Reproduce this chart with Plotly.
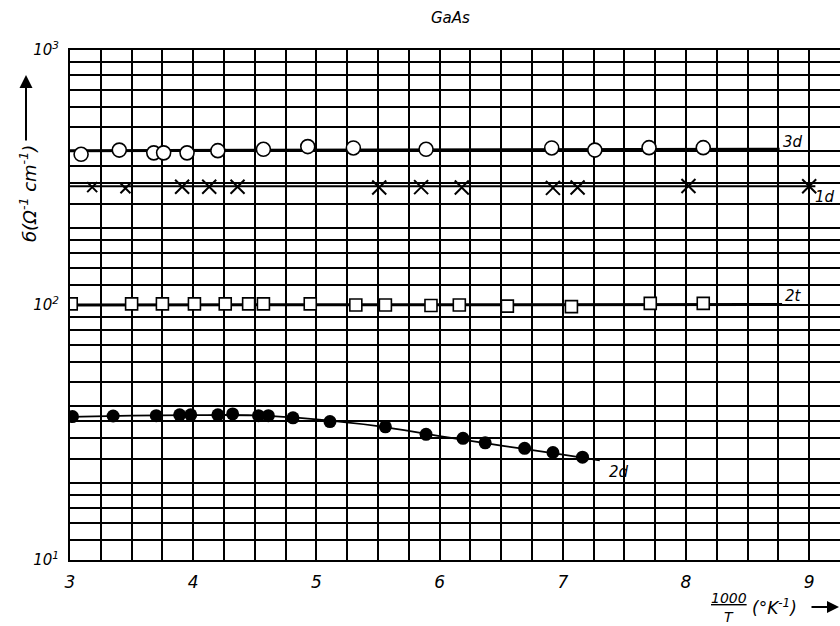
import plotly.graph_objects as go
import numpy as np

# ---- data ----
x3d = [3.09, 3.40, 3.68, 3.76, 3.95, 4.20, 4.57, 4.93, 5.30, 5.89, 6.91, 7.26, 7.70, 8.14]
y3d = [390, 405, 395, 395, 395, 403, 408, 418, 413, 408, 413, 405, 414, 414]

x1d = [3.18, 3.45, 3.91, 4.13, 4.36, 5.51, 5.85, 6.18, 6.92, 7.12, 8.02, 9.00]
y1d = [290, 287, 291, 291, 291, 289, 290, 289, 288, 289, 293, 292]

x2t = [3.01, 3.50, 3.75, 4.01, 4.26, 4.45, 4.57, 4.95, 5.32, 5.56, 5.93, 6.16, 6.55, 7.07, 7.71, 8.14]
y2t = [101, 101, 101, 101, 101, 101, 101, 101, 100, 100, 99.5, 100, 99, 98.5, 101.5, 101.5]

x2d = [3.02, 3.35, 3.70, 3.89, 3.98, 4.20, 4.32, 4.53, 4.61, 4.81, 5.11, 5.56, 5.89, 6.19, 6.37, 6.69, 6.92, 7.16]
y2d = [36.5, 36.7, 36.8, 37.1, 37.1, 37.1, 37.4, 36.8, 36.8, 36.1, 34.9, 33.3, 31.1, 30.0, 28.8, 27.4, 26.4, 25.3]

fit3d_x = [3.0, 8.76]
fit3d_y = [403, 408]
fit1d_x = [3.0, 9.05]
fit1d_y = [292, 292]
fit2t_x = [3.0, 8.78]
fit2t_y = [100, 100.5]
fit2d_x = [3.0, 3.5, 4.0, 4.5, 5.0, 5.5, 6.0, 6.5, 7.0, 7.3]
fit2d_y = [36.4, 36.8, 37.0, 36.9, 35.6, 33.5, 30.6, 28.1, 25.9, 24.6]

labels = ["3d", "1d", "2t", "2d"]
label_x = [8.77, 9.03, 8.79, 7.36]
label_y = [437, 266, 108, 22.2]

x_ticks = [3, 4, 5, 6, 7, 8, 9]
y_decades = [10, 100, 1000]
y_decade_text = ["10<sup>1</sup>", "10<sup>2</sup>", "10<sup>3</sup>"]
grid_mantissa = [1, 1.2, 1.4, 1.6, 1.8, 2, 2.5, 3, 3.5, 4, 5, 6, 7, 8, 9]

# ---- figure ----
FONT = "DejaVu Sans"
fig = go.Figure()

fig.add_trace(go.Scatter(x=fit3d_x, y=fit3d_y, mode="lines",
                         line=dict(color="black", width=3), showlegend=False))
fig.add_trace(go.Scatter(x=fit1d_x, y=fit1d_y, mode="lines",
                         line=dict(color="black", width=2), showlegend=False))
fig.add_trace(go.Scatter(x=fit2t_x, y=fit2t_y, mode="lines",
                         line=dict(color="black", width=3), showlegend=False))
fig.add_trace(go.Scatter(x=fit2d_x, y=fit2d_y, mode="lines", line_shape="spline",
                         line=dict(color="black", width=1.8), showlegend=False))

fig.add_trace(go.Scatter(x=x3d, y=y3d, mode="markers", showlegend=False,
                         marker=dict(symbol="circle", size=14, color="white", opacity=1,
                                     line=dict(color="black", width=1.6))))
sizes1d = [10, 10] + [14] * (len(x1d) - 2)
fig.add_trace(go.Scatter(x=x1d, y=y1d, mode="markers", showlegend=False,
                         marker=dict(symbol="x-thin", size=sizes1d, color="black", opacity=1,
                                     line=dict(color="black", width=2))))
fig.add_trace(go.Scatter(x=x2t, y=y2t, mode="markers", showlegend=False,
                         marker=dict(symbol="square", size=12, color="white", opacity=1,
                                     line=dict(color="black", width=1.6))))
fig.add_trace(go.Scatter(x=x2d, y=y2d, mode="markers", showlegend=False,
                         marker=dict(symbol="circle", size=13, color="black", opacity=1,
                                     line=dict(color="black", width=0))))

for t, lx, ly in zip(labels, label_x, label_y):
    fig.add_annotation(x=lx, y=np.log10(ly), text=t, showarrow=False,
                       xanchor="left", yanchor="middle",
                       font=dict(family=FONT, size=15, color="black", style="italic"))

# axes ticks / grid
xgrid = list(np.arange(3.0, 9.2501, 0.25))
xtext = [str(int(round(v))) if abs(v - round(v)) < 1e-9 and int(round(v)) in x_ticks else "" for v in xgrid]

ygrid = []
ytext = []
for d, dt in zip(y_decades[:-1], y_decade_text[:-1]):
    for m in grid_mantissa:
        ygrid.append(d * m)
        ytext.append(dt if m == 1 else "")
ygrid.append(y_decades[-1])
ytext.append(y_decade_text[-1])

fig.update_xaxes(range=[3, 9.25], tickvals=xgrid, ticktext=xtext,
                 showgrid=True, gridcolor="black", gridwidth=1.5,
                 showline=True, linecolor="black", linewidth=2, mirror=True,
                 ticks="", zeroline=False, ticklabelstandoff=6,
                 tickfont=dict(family=FONT, size=17, color="black", style="italic"))
fig.update_yaxes(type="log", range=[1, 3], tickvals=ygrid, ticktext=ytext,
                 showgrid=True, gridcolor="black", gridwidth=1.5,
                 showline=True, linecolor="black", linewidth=2,
                 ticks="", zeroline=False, ticklabelstandoff=6,
                 tickfont=dict(family=FONT, size=15, color="black", style="italic"))

# title
fig.add_annotation(xref="paper", yref="paper", x=(450 - 70) / 770, y=1 + 32 / 510,
                   text="GaAs", showarrow=False, xanchor="center", yanchor="middle",
                   font=dict(family=FONT, size=15, color="black", style="italic"))

# y-axis label (rotated) with arrow
fig.add_annotation(xref="paper", yref="paper", x=-42 / 770, y=(560 - 194) / 510,
                   text="б(Ω<sup>-1</sup> cm<sup>-1</sup>)", textangle=-90, showarrow=False,
                   xanchor="center", yanchor="middle",
                   font=dict(family=FONT, size=18, color="black", style="italic"))
fig.add_annotation(xref="paper", yref="paper", x=-44 / 770, y=(560 - 75) / 510,
                   ax=0, ay=67, axref="pixel", ayref="pixel", text="",
                   showarrow=True, arrowhead=2, arrowsize=1.3, arrowwidth=2, arrowcolor="black")

# x-axis label: 1000/T (°K^-1) ->
fig.add_annotation(xref="paper", yref="paper", x=(729 - 70) / 770, y=-(598 - 560) / 510,
                   text="<u>1000</u>", showarrow=False, xanchor="center", yanchor="middle",
                   font=dict(family=FONT, size=14, color="black", style="italic"))
fig.add_annotation(xref="paper", yref="paper", x=(729 - 70) / 770, y=-(617 - 560) / 510,
                   text="T", showarrow=False, xanchor="center", yanchor="middle",
                   font=dict(family=FONT, size=14, color="black", style="italic"))
fig.add_annotation(xref="paper", yref="paper", x=(750 - 70) / 770, y=-(607 - 560) / 510,
                   text="(°K<sup>-1</sup>)", showarrow=False, xanchor="left", yanchor="middle",
                   font=dict(family=FONT, size=17, color="black", style="italic"))
fig.add_annotation(xref="paper", yref="paper", x=(839 - 70) / 770, y=-(607 - 560) / 510,
                   ax=-29, ay=0, axref="pixel", ayref="pixel", text="",
                   showarrow=True, arrowhead=2, arrowsize=1.2, arrowwidth=2, arrowcolor="black")

fig.update_layout(width=840, height=626,
                  margin=dict(l=70, r=0, t=50, b=66),
                  paper_bgcolor="white", plot_bgcolor="white",
                  font=dict(family=FONT, color="black"))

fig.write_html("out.html", config={"displayModeBar": False},
               post_script="document.body.style.margin='0';document.body.style.padding='0';")
